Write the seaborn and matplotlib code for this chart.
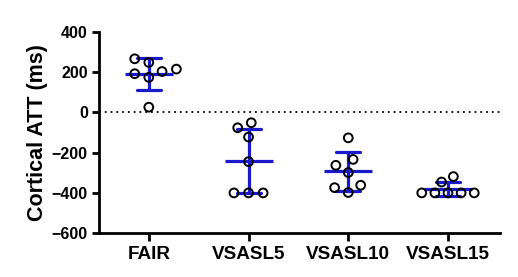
import matplotlib
matplotlib.use("Agg")
import matplotlib.pyplot as plt
import seaborn as sns
import pandas as pd
import numpy as np

categories = ["FAIR", "VSASL5", "VSASL10", "VSASL15"]
fair = [214, 247, 265, 191, 173, 202, 25]
vsasl5 = [-52, -77, -123, -245, -400, -400, -400]
vsasl10 = [-127, -234, -263, -299, -362, -374, -398]
vsasl15 = [-319, -346, -400, -400, -400, -400, -400]
y_ticks = [-600, -400, -200, 0, 200, 400]
y_label = "Cortical ATT (ms)"

BLUE = "#1a1acc"
# spacing used by the swarm layout for each group (points)
swarm_spacing = {"FAIR": 8.6, "VSASL5": 8.6, "VSASL10": 8.6, "VSASL15": 7.6}

sns.set_theme(style="ticks")
plt.rcParams['font.family'] = ['Liberation Sans', 'DejaVu Sans']
plt.rcParams['font.weight'] = 'bold'
plt.rcParams['axes.labelweight'] = 'bold'
plt.rcParams['text.color'] = 'black'
plt.rcParams['axes.labelcolor'] = 'black'

series = [fair, vsasl5, vsasl10, vsasl15]
df = pd.DataFrame({
    "group": [c for c, s in zip(categories, series) for _ in s],
    "att": [v for s in series for v in s],
})

fig = plt.figure(figsize=(5.18, 2.77), dpi=100)
ax = fig.add_axes([0.191, 0.158, 0.774, 0.728])

ax.axhline(0, color="black", linestyle=(0, (1, 2.2)), linewidth=1.3, zorder=1)

sns.pointplot(data=df, x="group", y="att", order=categories, estimator="mean",
              errorbar="sd", capsize=0.24, color=BLUE, linestyle="none",
              marker="_", markersize=34, markeredgewidth=2.3,
              err_kws={"linewidth": 2.3}, ax=ax, zorder=3)

for cat in categories:
    sns.swarmplot(data=df[df["group"] == cat], x="group", y="att", order=categories,
                  size=swarm_spacing[cat], color="white", edgecolor="black",
                  linewidth=1.4, ax=ax, zorder=4)

ax.set_ylim(-600, 400)
ax.set_xlim(-0.5, 3.52)
ax.set_yticks(y_ticks)
ax.set_xlabel("")
ax.set_ylabel(y_label, fontsize=15.5, labelpad=3, color="black")

sns.despine(ax=ax)
for s in ["left", "bottom"]:
    ax.spines[s].set_linewidth(2.0)
    ax.spines[s].set_color("black")
ax.tick_params(axis="y", width=2, length=5, labelsize=11.5, pad=3, colors="black")
ax.tick_params(axis="x", width=2, length=5.5, labelsize=13.6, pad=4, colors="black")

# compute swarm layout, then freeze it and shrink markers
fig.canvas.draw()
for coll in ax.collections:
    if "draw" in coll.__dict__:
        del coll.draw
        coll.set_sizes([6.3 ** 2])
        coll.set_facecolor("none")

fig.savefig("out.png", dpi=100)
